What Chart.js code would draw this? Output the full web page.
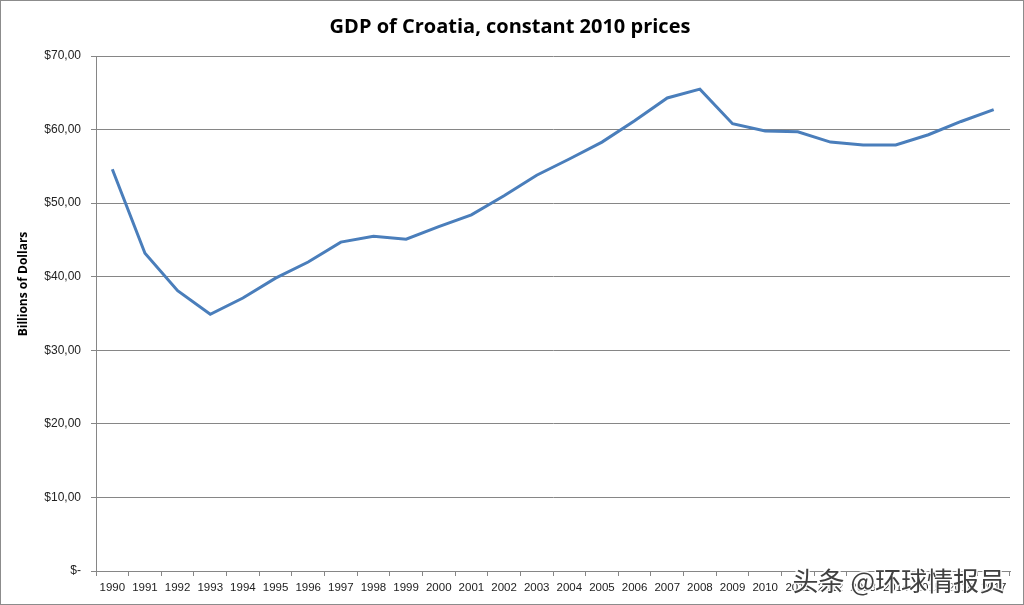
<!DOCTYPE html>
<html>
<head>
<meta charset="utf-8">
<script src="https://cdn.jsdelivr.net/npm/chart.js@4"></script>
<style>
  html, body { margin: 0; padding: 0; background: #fff; }
  #wrap { width: 1024px; height: 605px; box-sizing: border-box; border: 1px solid #8c8c8c; position: relative; }
</style>
</head>
<body>
<div id="wrap"><canvas id="myChart"></canvas></div>
<script>
const years = ['1990', '1991', '1992', '1993', '1994', '1995', '1996', '1997', '1998', '1999',
    '2000', '2001', '2002', '2003', '2004', '2005', '2006', '2007', '2008', '2009',
    '2010', '2011', '2012', '2013', '2014', '2015', '2016', '2017'];
const gdp = [54.6, 43.2, 38.1, 34.9, 37.1, 39.8, 42.0, 44.7, 45.5, 45.1,
    46.8, 48.4, 51.0, 53.8, 56.0, 58.3, 61.2, 64.3, 65.5, 60.8,
    59.8, 59.7, 58.3, 57.9, 57.9, 59.3, 61.1, 62.7];
const yTickValues = [0, 10, 20, 30, 40, 50, 60, 70];
const yTickLabels = ['$-', '$10,00', '$20,00', '$30,00', '$40,00', '$50,00', '$60,00', '$70,00'];

const labelFont = "'Liberation Sans', Arial, sans-serif";

// y axis title sits a bit above the middle in the original, so draw it by hand
const yTitle = {
    id: 'yTitle',
    afterDraw(chart) {
        const ctx = chart.ctx;
        ctx.save();
        ctx.translate(23, 283);
        ctx.rotate(-Math.PI / 2);
        ctx.font = "bold 12px 'Open Sans', sans-serif";
        ctx.fillStyle = '#000';
        ctx.textAlign = 'center';
        ctx.textBaseline = 'middle';
        ctx.fillText('Billions of Dollars', 0, 0);
        ctx.restore();
    }
};

// watermark in the lower right corner
const watermark = {
    id: 'watermark',
    afterDraw(chart) {
        const ctx = chart.ctx;
        ctx.save();
        ctx.font = "26px 'Noto Sans CJK SC'";
        ctx.textAlign = 'right';
        ctx.textBaseline = 'alphabetic';
        ctx.lineWidth = 3;
        ctx.strokeStyle = 'rgba(255,255,255,0.9)';
        ctx.strokeText('头条 @环球情报员', 1004, 590);
        ctx.fillStyle = '#404040';
        ctx.fillText('头条 @环球情报员', 1004, 590);
        ctx.restore();
    }
};

const ctx = document.getElementById('myChart').getContext('2d');
const chart = new Chart(ctx, {
    type: 'line',
    data: {
        labels: years,
        datasets: [{
            label: 'GDP',
            data: gdp,
            borderColor: '#4a7ebb',
            borderWidth: 3,
            pointRadius: 0,
            tension: 0,
            fill: false
        }]
    },
    options: {
        responsive: true,
        maintainAspectRatio: false,
        animation: false,
        layout: { padding: { left: 9, right: 13, top: 0, bottom: 0 } },
        plugins: {
            legend: { display: false },
            tooltip: { enabled: false },
            title: {
                display: true,
                text: 'GDP of Croatia, constant 2010 prices',
                color: '#000',
                font: { family: "'Open Sans', sans-serif", size: 20, weight: 'bold' },
                padding: { top: 14, bottom: 17 }
            }
        },
        scales: {
            x: {
                offset: true,
                grid: {
                    offset: true,
                    drawOnChartArea: false,
                    drawTicks: true,
                    tickLength: 5,
                    color: '#868686'
                },
                border: { color: '#868686', width: 1 },
                ticks: {
                    color: '#222',
                    font: { family: labelFont, size: 11.5 },
                    padding: 5,
                    maxRotation: 0,
                    autoSkip: false
                },
                afterFit(scale) { scale.height = 33; }
            },
            y: {
                min: 0,
                max: 70,
                afterBuildTicks(scale) {
                    scale.ticks = yTickValues.map(v => ({ value: v }));
                },
                grid: {
                    color: '#868686',
                    tickLength: 5,
                    drawTicks: true
                },
                border: { color: '#868686', width: 1 },
                ticks: {
                    color: '#222',
                    font: { family: labelFont, size: 12 },
                    padding: 10,
                    callback: function (value) {
                        const i = yTickValues.indexOf(value);
                        return i >= 0 ? yTickLabels[i] : '';
                    }
                },
                afterFit(scale) { scale.width = 86; }
            }
        }
    },
    plugins: [yTitle, watermark]
});
</script>
</body>
</html>
